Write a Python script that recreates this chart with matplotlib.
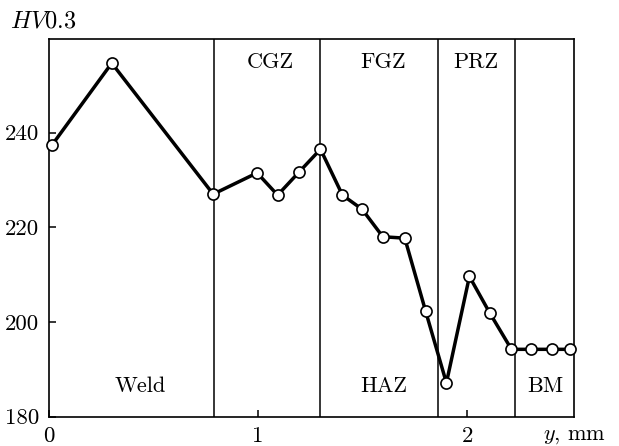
import matplotlib
matplotlib.use("Agg")
import matplotlib.pyplot as plt

plt.rcParams['font.family'] = 'serif'
plt.rcParams['font.serif'] = ['cmr10', 'DejaVu Serif']
plt.rcParams['mathtext.fontset'] = 'cm'
plt.rcParams['axes.formatter.use_mathtext'] = True

# data
y_mm = [0.013, 0.30, 0.785, 0.995, 1.093, 1.194, 1.298, 1.403, 1.497, 1.596,
        1.701, 1.801, 1.900, 2.010, 2.107, 2.211, 2.306, 2.405, 2.493]
hv = [237.3, 254.7, 227.0, 231.5, 226.8, 231.6, 236.5, 226.8, 223.8, 218.0,
      217.7, 202.2, 187.1, 209.6, 201.9, 194.2, 194.2, 194.2, 194.2]
boundaries = [0.788, 1.297, 1.862, 2.226]
top_labels = ["CGZ", "FGZ", "PRZ"]
top_label_x = [1.057, 1.597, 2.040]
bottom_labels = ["Weld", "HAZ", "BM"]
bottom_label_x = [0.435, 1.60, 2.373]
xticks = [0, 1, 2]
yticks = [180, 200, 220, 240]

fig = plt.figure(figsize=(6.19, 4.46), dpi=100)
ax = fig.add_axes([49/619, 1 - 416.5/446, (574 - 49)/619, (416.5 - 39)/446])

for b in boundaries:
    ax.axvline(b, color='black', lw=1.1, zorder=1)

ax.plot(y_mm, hv, color='black', lw=2.5, marker='o', ms=8,
        mfc='white', mec='black', mew=1.2, zorder=3, clip_on=False)

ax.set_xlim(0, 2.51)
ax.set_ylim(180, 259.8)
ax.set_xticks(xticks)
ax.set_xticklabels([str(t) for t in xticks])
ax.set_yticks(yticks)
ax.set_yticklabels([str(t) for t in yticks])
ax.tick_params(direction='in', length=5, width=1.1, labelsize=16.5, pad=7,
               top=False, right=False)
for s in ax.spines.values():
    s.set_linewidth(1.2)

for lab, xx in zip(top_labels, top_label_x):
    ax.text(xx, 0.938, lab, transform=ax.get_xaxis_transform(),
            ha='center', va='center', fontsize=16)
for lab, xx in zip(bottom_labels, bottom_label_x):
    ax.text(xx, 0.08, lab, transform=ax.get_xaxis_transform(),
            ha='center', va='center', fontsize=16)

fig.text(10/619, 1 - 21/446, r'$HV0.3$', ha='left', va='center', fontsize=17.5)
fig.text(575/619, 1 - 436/446, r'$y$, mm', ha='center', va='center', fontsize=16)

fig.savefig('out.png', dpi=100)
